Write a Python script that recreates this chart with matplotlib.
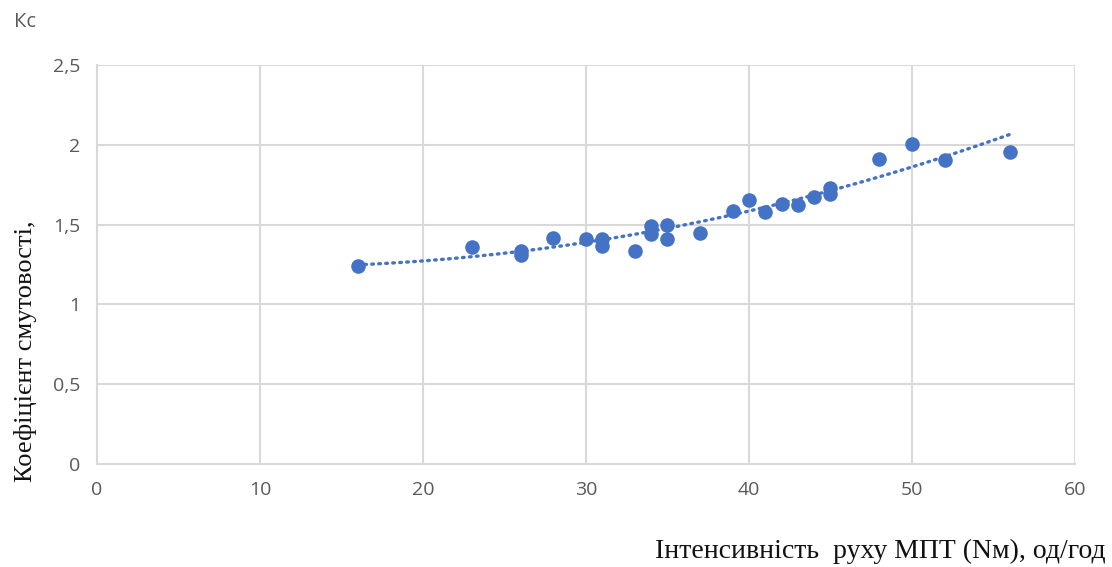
import numpy as np
import matplotlib
matplotlib.use("Agg")
import matplotlib.pyplot as plt

# Data
intensity = [16, 23, 26, 26, 28, 30, 31, 31, 33, 34, 34, 35, 35, 37, 39, 40, 41, 42, 43, 44, 45, 45, 48, 50, 52, 56]
kc = [1.24, 1.36, 1.335, 1.31, 1.415, 1.41, 1.41, 1.365, 1.335, 1.49, 1.44, 1.50, 1.41, 1.445,
      1.585, 1.655, 1.58, 1.63, 1.62, 1.675, 1.73, 1.69, 1.91, 2.005, 1.905, 1.955]
x_ticks = [0, 10, 20, 30, 40, 50, 60]
y_ticks = [0, 0.5, 1.0, 1.5, 2.0, 2.5]
y_tick_labels = ["0", "0,5", "1", "1,5", "2", "2,5"]

blue = "#4472C4"
grid_c = "#d9d9d9"
tick_c = "#595959"

fig = plt.figure(figsize=(11.12, 5.67), dpi=100)
ax = fig.add_axes([0.0872, 0.1817, 0.9667 - 0.0872, 0.8854 - 0.1817])

ax.scatter(intensity, kc, s=110, color=blue, zorder=3, linewidths=0)

# polynomial trendline (order 2)
coef = np.polyfit(intensity, kc, 2)
xt = np.linspace(min(intensity), max(intensity), 200)
ax.plot(xt, np.polyval(coef, xt), color=blue, lw=2.4, linestyle=(0, (0.5, 1.6)),
        dash_capstyle="round", zorder=2)

ax.set_xlim(0, 60)
ax.set_ylim(0, 2.5)
ax.set_xticks(x_ticks)
ax.set_yticks(y_ticks)
ax.set_yticklabels(y_tick_labels)
ax.grid(True, color=grid_c, lw=1.5, zorder=0)
ax.set_axisbelow(True)
for s in ax.spines.values():
    s.set_visible(False)
ax.spines["left"].set_visible(True)
ax.spines["left"].set_color(grid_c)
ax.spines["left"].set_linewidth(1.5)
ax.spines["bottom"].set_visible(True)
ax.spines["bottom"].set_color(grid_c)
ax.spines["bottom"].set_linewidth(1.5)
ax.tick_params(length=0, labelsize=14, labelcolor=tick_c, pad=12)
for lab in ax.get_xticklabels() + ax.get_yticklabels():
    lab.set_family("Open Sans")

fig.text(0.013, 0.962, "Кс", fontsize=14.5, color=tick_c, family="Open Sans", va="center", ha="left")
fig.text(0.023, 0.38, "Коефіцієнт смутовості,", rotation=90, fontsize=19,
         family="Liberation Serif", va="center", ha="center", color="#111111")
fig.text(0.994, 0.027, "Інтенсивність  руху МПТ (Nм), од/год", fontsize=20,
         family="Liberation Serif", va="center", ha="right", color="#111111")

fig.savefig("out.png", dpi=100, facecolor="white")
